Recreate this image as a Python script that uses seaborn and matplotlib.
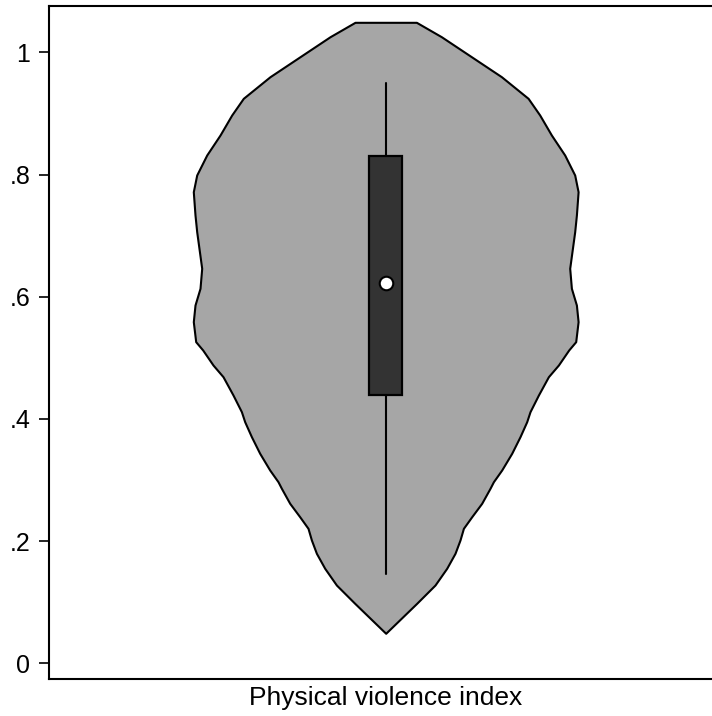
import matplotlib
matplotlib.use("Agg")
import matplotlib.pyplot as plt
import seaborn as sns
import numpy as np
import pandas as pd

# ---- data ----
# density profile of the violin (value, half-width in arbitrary density units)
violin_y = [1.0491, 1.0255, 0.9928, 0.9601, 0.9247, 0.8974, 0.8646, 0.8319,
            0.7992, 0.7718, 0.7337, 0.7064, 0.6465, 0.6137, 0.5864, 0.5591,
            0.5264, 0.5128, 0.4882, 0.4691, 0.4391, 0.4118, 0.3954, 0.3709,
            0.3437, 0.3164, 0.2972, 0.2864, 0.2619, 0.2399, 0.2209, 0.2018,
            0.1800, 0.1555, 0.1281, 0.0982, 0.0491]
violin_halfwidth = [30.7, 55.7, 85.7, 115.7, 142.4, 154, 165.7, 179,
                    189, 192.4, 190.7, 189, 184, 185.7, 190.7, 192.4,
                    190, 183, 172.7, 162.7, 152.7, 144.3, 141, 134.3,
                    126, 116, 107.7, 104.3, 96, 86, 77.7, 74.3,
                    69.3, 61, 49.3, 31, 0]

# box plot summary
q1 = 0.439
median = 0.622
q3 = 0.831
whisker_low = 0.146
whisker_high = 0.950

ytick_values = [0, 0.2, 0.4, 0.6, 0.8, 1.0]
ytick_labels = ["0", ".2", ".4", ".6", ".8", "1"]
x_label = "Physical violence index"

# ---- styling ----
sns.set_theme(style="white")
plt.rcParams["font.family"] = ["Liberation Sans", "DejaVu Sans"]

fig = plt.figure(figsize=(7.12, 7.16), dpi=100)
W, H = 712, 716
left_px, top_px, bottom_px = 48.5, 6.0, 679.3
center_px = 385.7
right_px = 2 * center_px - left_px
ax = fig.add_axes([left_px / W, (H - bottom_px) / H,
                   (right_px - left_px) / W, (bottom_px - top_px) / H])

half = center_px - left_px
ax.set_xlim(-half, half)
ax.set_ylim(-0.0262, 1.0758)

df = pd.DataFrame({"y": violin_y, "hw": violin_halfwidth})
ax.fill_betweenx(df["y"], -df["hw"], df["hw"], facecolor="#a6a6a6",
                 edgecolor="black", linewidth=1.5, zorder=1)

stats = [{"q1": q1, "med": median, "q3": q3,
          "whislo": whisker_low, "whishi": whisker_high, "fliers": []}]
ax.bxp(stats, positions=[0], widths=33, patch_artist=True,
       boxprops=dict(facecolor="#333333", edgecolor="black", linewidth=1.6),
       whiskerprops=dict(color="black", linewidth=1.5),
       capprops=dict(linewidth=0), medianprops=dict(linewidth=0),
       showcaps=False, manage_ticks=False, zorder=2)

sns.scatterplot(x=[0], y=[median], ax=ax, s=95, color="white",
                edgecolor="black", linewidth=1.5, zorder=4, legend=False)

ax.set_yticks(ytick_values)
ax.set_yticklabels(ytick_labels)
ax.set_xticks([])
ax.tick_params(axis="y", which="major", left=True, length=7, width=1.2,
               pad=6, labelsize=18, color="black", labelcolor="black")
for s in ["left", "bottom", "top"]:
    ax.spines[s].set_visible(True)
    ax.spines[s].set_color("black")
    ax.spines[s].set_linewidth(1.5)
ax.spines["right"].set_visible(False)
ax.set_xlabel(x_label, fontsize=19, color="black", labelpad=5)
ax.set_ylabel("")

fig.savefig("out.png", dpi=100)
